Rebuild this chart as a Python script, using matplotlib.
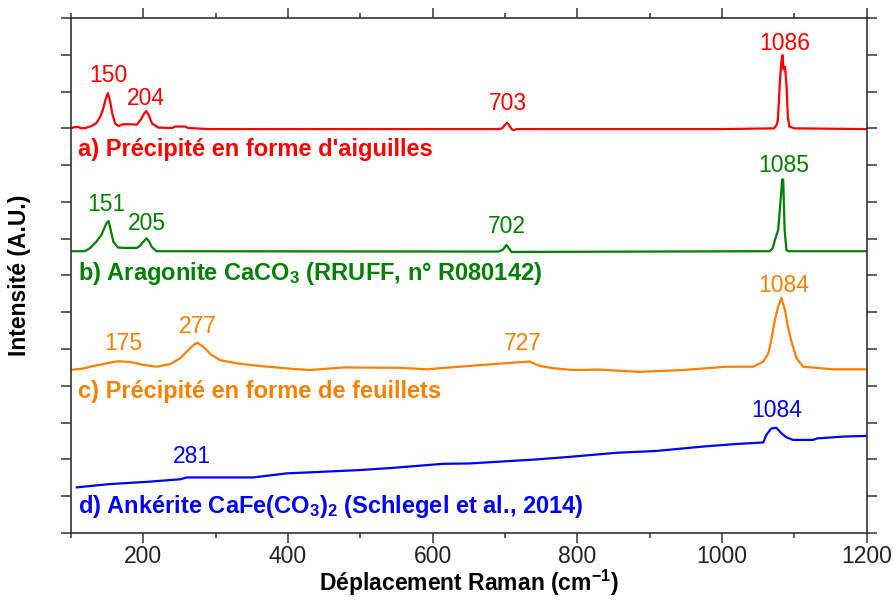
import matplotlib.pyplot as plt
from matplotlib.ticker import MultipleLocator

plt.rcParams['font.family'] = ['Liberation Sans', 'DejaVu Sans']
plt.rcParams['mathtext.default'] = 'regular'

# spectra (Raman shift in cm-1, stacked intensity in A.U.)
red_x = [100, 104, 110, 114, 120, 128, 135, 140, 144, 148, 151, 154, 157, 161, 166,
         171, 184, 191, 197, 201, 204, 207, 212, 221, 240, 244, 258, 262, 290, 690,
         696, 700, 703, 706, 709, 712, 716, 1000, 1072, 1075, 1077, 1079, 1080, 1082,
         1083.5, 1085, 1087, 1089, 1091, 1093, 1100, 1200]
red_y = [11.00, 11.03, 11.04, 11.00, 11.01, 11.06, 11.14, 11.30, 11.50, 11.80, 11.96,
         11.75, 11.41, 11.13, 11.06, 11.11, 11.11, 11.10, 11.25, 11.40, 11.47, 11.38,
         11.13, 11.02, 11.01, 11.05, 11.05, 11.01, 10.98, 10.98, 11.00, 11.10, 11.15,
         11.07, 10.98, 10.95, 10.98, 10.98, 11.00, 11.08, 11.20, 11.90, 12.30, 12.80,
         12.99, 12.60, 12.67, 12.20, 11.30, 11.05, 11.00, 10.98]

green_x = [100, 119, 126, 135, 142, 149, 152, 155, 158.5, 165, 175, 191, 195, 200,
           204.5, 208, 211.5, 218, 691, 697, 702, 706, 709, 1066, 1070, 1073, 1077.5,
           1080, 1082, 1083, 1084.5, 1086.5, 1089, 1092, 1200]
green_y = [7.66, 7.66, 7.74, 7.92, 8.10, 8.42, 8.48, 8.23, 7.92, 7.76, 7.75, 7.75,
           7.80, 7.92, 8.01, 7.92, 7.78, 7.66, 7.65, 7.70, 7.83, 7.72, 7.64, 7.66,
           7.74, 7.96, 8.23, 8.82, 9.30, 9.61, 9.61, 8.23, 7.69, 7.66, 7.66]

orange_x = [100, 106, 117, 131, 149, 165, 184, 200, 218, 237, 251, 262, 270, 275,
            283, 294, 306, 329, 361, 407, 430, 476, 555, 592, 624, 670, 711, 734,
            748, 766, 794, 831, 886, 946, 1006, 1043, 1057, 1064, 1068, 1073, 1077.5,
            1082, 1087, 1091, 1096, 1103, 1112, 1153, 1200]
orange_y = [4.43, 4.45, 4.47, 4.54, 4.61, 4.67, 4.64, 4.57, 4.52, 4.59, 4.75, 4.97,
            5.12, 5.17, 5.06, 4.84, 4.70, 4.61, 4.54, 4.46, 4.43, 4.50, 4.49, 4.45,
            4.50, 4.57, 4.63, 4.66, 4.54, 4.48, 4.43, 4.44, 4.38, 4.43, 4.52, 4.52,
            4.66, 4.88, 5.24, 5.79, 6.15, 6.39, 6.06, 5.61, 5.20, 4.75, 4.52, 4.45, 4.45]

blue_x = [108, 154, 205, 251, 260, 352, 398, 499, 545, 614, 651, 744, 790, 854, 909,
          974, 1020, 1057, 1061, 1068, 1075, 1082, 1089, 1098, 1126, 1131, 1167, 1200]
blue_y = [1.24, 1.33, 1.39, 1.46, 1.51, 1.51, 1.62, 1.71, 1.77, 1.88, 1.89, 2.00,
          2.07, 2.18, 2.23, 2.35, 2.42, 2.46, 2.66, 2.84, 2.86, 2.71, 2.60, 2.53,
          2.53, 2.57, 2.62, 2.64]

# peak labels: text, x position, baseline height
red_peaks = ['150', '204', '703', '1086']
red_peak_x = [151, 204, 704, 1087]
red_peak_y = [12.26, 11.64, 11.49, 13.12]
green_peaks = ['151', '205', '702', '1085']
green_peak_x = [149, 205.5, 703, 1085.5]
green_peak_y = [8.76, 8.23, 8.16, 9.82]
orange_peaks = ['175', '277', '727', '1084']
orange_peak_x = [172, 275, 724, 1084.5]
orange_peak_y = [4.97, 5.44, 4.97, 6.56]
blue_peaks = ['281', '1084']
blue_peak_x = [267, 1075]
blue_peak_y = [1.89, 3.16]

names = ["a) Précipité en forme d'aiguilles",
         "b) Aragonite CaCO$_3$ (RRUFF, n° R080142)",
         "c) Précipité en forme de feuillets",
         "d) Ankérite CaFe(CO$_3$)$_2$ (Schlegel et al., 2014)"]
name_y = [10.26, 6.88, 3.68, 0.55]

colors = ['#ff0000', '#008000', '#ff8000', '#0000ff']

fig, ax = plt.subplots(figsize=(8.93, 6), dpi=100)
fig.subplots_adjust(left=0.0795, right=0.9706, bottom=0.1117, top=0.97)

series = [(red_x, red_y, red_peaks, red_peak_x, red_peak_y),
          (green_x, green_y, green_peaks, green_peak_x, green_peak_y),
          (orange_x, orange_y, orange_peaks, orange_peak_x, orange_peak_y),
          (blue_x, blue_y, blue_peaks, blue_peak_x, blue_peak_y)]

for (xs, ys, labs, lx, ly), c, name, ny in zip(series, colors, names, name_y):
    ax.plot(xs, ys, color=c, lw=1.6)
    for t, px, py in zip(labs, lx, ly):
        ax.text(px, py, t, color=c, fontsize=16.5, ha='center', va='baseline')
    ax.text(110, ny, name, color=c, fontsize=17, fontweight='bold',
            ha='left', va='baseline')

ax.set_xlim(100, 1200)
ax.set_ylim(0, 14)
ax.xaxis.set_major_locator(MultipleLocator(200))
ax.xaxis.set_minor_locator(MultipleLocator(100))
ax.yaxis.set_major_locator(MultipleLocator(1))

ax.tick_params(which='both', direction='out', top=True, right=True,
               width=1.1, color='#333333')
ax.tick_params(which='major', length=7.5)
ax.tick_params(which='minor', length=3.5)
ax.tick_params(axis='y', labelleft=False)
ax.tick_params(axis='x', labelsize=16.5, labelcolor='#222222', pad=1)
for s in ax.spines.values():
    s.set_linewidth(1.2)
    s.set_color('#333333')

ax.set_xlabel('Déplacement Raman (cm$^{-1}$)', fontsize=16.5, fontweight='bold',
              labelpad=0)
ax.set_ylabel('Intensité (A.U.)', fontsize=16.5, fontweight='bold', labelpad=21)

fig.savefig('out.png', dpi=100)
